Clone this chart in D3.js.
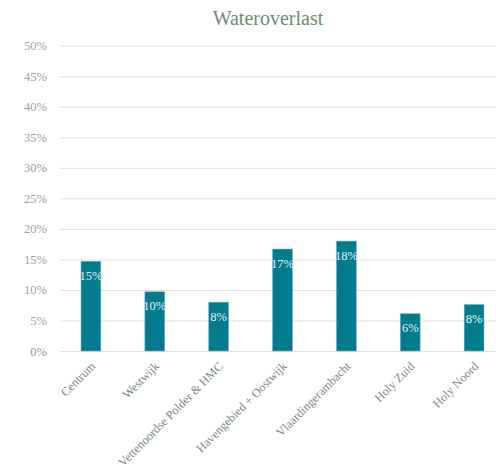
<!DOCTYPE html>
<html>
  <head>
    <title>Wateroverlast</title>
    <style type="text/css">
        html, body{
            padding: 0px;
            margin: 0px;
            background: #ffffff;
            font-family: "Liberation Serif", "DejaVu Serif", serif;
        }
        #vis{
            width: 496px;
            height: 470px;
            overflow: hidden;
        }
    </style>
  </head>
  <body>
    <div id="vis"></div>
    <script src="https://cdnjs.cloudflare.com/ajax/libs/d3/7.8.5/d3.min.js"></script>
    <script type="text/javascript">

        // data
        var categories = ["Centrum", "Westwijk", "Vettenoordse Polder & HMC",
                          "Havengebied + Oostwijk", "Vlaardingerambacht",
                          "Holy Zuid", "Holy Noord"];
        var values = [0.147, 0.097, 0.080, 0.167, 0.180, 0.061, 0.076];
        var labels = ["15%", "10%", "8%", "17%", "18%", "6%", "8%"];
        var yTicks = [0, 0.05, 0.10, 0.15, 0.20, 0.25, 0.30, 0.35, 0.40, 0.45, 0.50];

        var width = 496,
            height = 470;

        var svg = d3.select("#vis").append("svg")
            .attr("width", width)
            .attr("height", height);

        var x = d3.scaleBand()
            .domain(categories)
            .range([59, 506])
            .paddingInner(0.69)
            .paddingOuter(0.345);

        var y = d3.scaleLinear()
            .domain([0, 0.5])
            .range([351, 45.7]);

        // title
        svg.append("text")
            .attr("x", 268)
            .attr("y", 25)
            .attr("text-anchor", "middle")
            .attr("fill", "#6f8a74")
            .style("font-size", "20px")
            .text("Wateroverlast");

        // gridlines + y labels
        var yAxis = d3.axisLeft(y)
            .tickValues(yTicks)
            .tickSize(-(width - 60))
            .tickPadding(13)
            .tickFormat(d3.format(".0%"));

        var gy = svg.append("g")
            .attr("transform", "translate(60,0)")
            .call(yAxis);

        gy.select(".domain").remove();
        gy.selectAll(".tick line")
            .attr("stroke", "#e0e0e0")
            .attr("stroke-width", 1);
        gy.selectAll(".tick text")
            .attr("fill", "#9aa39b")
            .style("font-family", "\"Liberation Serif\", serif")
            .style("font-size", "12.5px");

        // bars
        svg.selectAll("rect.bar")
            .data(values)
            .enter()
            .append("rect")
            .attr("class", "bar")
            .attr("x", function(d, i) { return x(categories[i]); })
            .attr("y", function(d) { return y(d); })
            .attr("width", x.bandwidth())
            .attr("height", function(d) { return y(0) - y(d); })
            .attr("fill", "#027b8c")
            .attr("stroke", "#6fb3bf")
            .attr("stroke-width", 0.6);

        // value labels
        svg.selectAll("text.val")
            .data(values)
            .enter()
            .append("text")
            .attr("class", "val")
            .attr("x", function(d, i) { return x(categories[i]) + x.bandwidth() / 2; })
            .attr("y", function(d) { return y(d) + 18.5; })
            .attr("text-anchor", "middle")
            .attr("fill", "#e6f1f2")
            .style("font-size", "12.5px")
            .text(function(d, i) { return labels[i]; });

        // x axis
        var gx = svg.append("g")
            .attr("transform", "translate(0," + y(0) + ")")
            .call(d3.axisBottom(x).tickSize(0).tickPadding(0));

        gx.select(".domain").remove();
        gx.selectAll(".tick text")
            .attr("fill", "#7b8a7d")
            .style("font-family", "\"Liberation Serif\", serif")
            .style("font-size", "12.2px")
            .attr("text-anchor", "end")
            .attr("dy", "0.35em")
            .attr("transform", "translate(2,13) rotate(-45)");

    </script>
  </body>
</html>
